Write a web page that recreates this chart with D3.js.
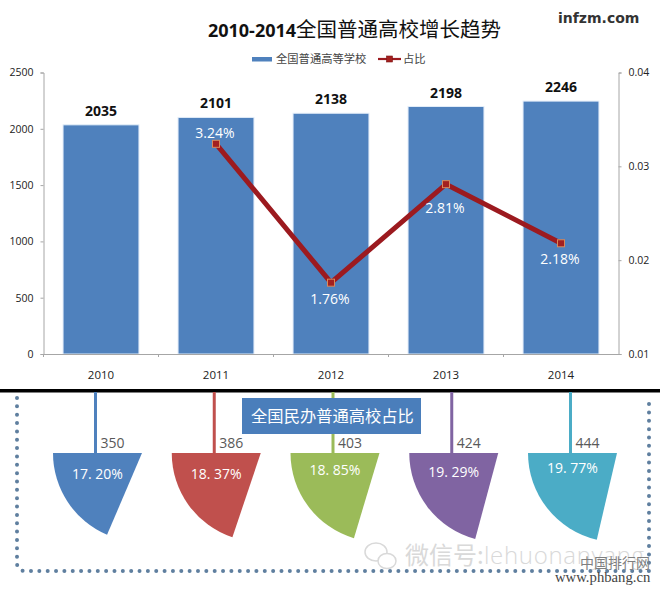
<!DOCTYPE html>
<html>
<head>
<meta charset="utf-8">
<script src="https://cdnjs.cloudflare.com/ajax/libs/d3/7.8.5/d3.min.js"></script>
<style>
html, body { margin: 0; padding: 0; background: #fff; }
svg { display: block; }
text { font-family: "Open Sans", "Noto Sans CJK SC", sans-serif; }
</style>
</head>
<body>
<div id="chart"></div>
<script>
var years = ["2010", "2011", "2012", "2013", "2014"];
var schools = [2035, 2101, 2138, 2198, 2246];
var shareYears = ["2011", "2012", "2013", "2014"];
var shares = [0.0324, 0.0176, 0.0281, 0.0218];
var shareLabels = ["3.24%", "1.76%", "2.81%", "2.18%"];
var leftTicks = [0, 500, 1000, 1500, 2000, 2500];
var rightTicks = [0.01, 0.02, 0.03, 0.04];

var privateCounts = [350, 386, 403, 424, 444];
var privateShares = [17.20, 18.37, 18.85, 19.29, 19.77];
var privateLabels = ["17. 20%", "18. 37%", "18. 85%", "19. 29%", "19. 77%"];
var fanColors = ["#4f81bd", "#c0504d", "#9bbb59", "#8064a2", "#4bacc6"];

var width = 660, height = 591;
var cjk = '"Noto Sans CJK SC", sans-serif';

var svg = d3.select("#chart").append("svg")
	.attr("width", width)
	.attr("height", height);

// escalas del grafico de arriba
var x = d3.scaleBand().domain(years).range([43.5, 618.5]).paddingInner(0.34).paddingOuter(0.17);
var y = d3.scaleLinear().domain([0, 2500]).range([354, 72.5]);
var y2 = d3.scaleLinear().domain([0.01, 0.04]).range([354, 72.5]);

svg.append("text")
	.attr("x", 354.5).attr("y", 37)
	.attr("text-anchor", "middle")
	.attr("fill", "#111")
	.style("font-size", "20.5px")
	.call(function (t) {
		t.append("tspan").style("font-weight", 700).style("font-family", "'Open Sans'").style("font-size", "18px").text("2010-2014");
		t.append("tspan").style("font-family", cjk).style("font-weight", 400).text("全国普通高校增长趋势");
	});

svg.append("text")
	.attr("x", 558).attr("y", 23)
	.attr("fill", "#333")
	.style("font-family", "'DejaVu Sans'")
	.style("font-weight", 700)
	.style("font-size", "14px")
	.text("infzm.com");

// leyenda
svg.append("rect").attr("x", 252).attr("y", 57).attr("width", 20).attr("height", 4.5).attr("fill", "#4f81bd");
svg.append("text").attr("x", 276).attr("y", 63)
	.attr("fill", "#444").style("font-family", cjk).style("font-size", "11.3px").text("全国普通高等学校");
svg.append("line").attr("x1", 378).attr("x2", 401).attr("y1", 59).attr("y2", 59)
	.attr("stroke", "#9c1a1f").attr("stroke-width", 2.2);
svg.append("rect").attr("x", 386.5).attr("y", 56).attr("width", 6).attr("height", 6)
	.attr("fill", "#a3201f").attr("stroke", "#7c1515").attr("stroke-width", 0.6);
svg.append("text").attr("x", 403).attr("y", 63)
	.attr("fill", "#444").style("font-family", cjk).style("font-size", "11.3px").text("占比");

// barras
svg.append("g").selectAll("rect")
	.data(schools)
	.enter()
	.append("rect")
	.attr("x", function (d, i) { return x(years[i]); })
	.attr("y", function (d) { return y(d); })
	.attr("width", x.bandwidth())
	.attr("height", function (d) { return y(0) - y(d); })
	.attr("fill", "#4f81bd")
	.attr("stroke", "#e1ecf8")
	.attr("stroke-width", 1);

svg.append("g").selectAll("text")
	.data(schools)
	.enter()
	.append("text")
	.attr("x", function (d, i) { return x(years[i]) + x.bandwidth() / 2; })
	.attr("y", function (d) { return y(d) - 9; })
	.attr("text-anchor", "middle")
	.attr("fill", "#111")
	.style("font-size", "14px")
	.style("font-weight", 700)
	.text(function (d) { return d; });

// ejes
var axisLeft = d3.axisLeft(y).tickValues(leftTicks).tickSize(3).tickPadding(7).tickFormat(d3.format("d"));
var axisRight = d3.axisRight(y2).tickValues(rightTicks).tickSize(3).tickPadding(7).tickFormat(d3.format(".2f"));
var axisBottom = d3.axisBottom(x).tickSize(0).tickPadding(17);

function estiloEje(g) {
	g.selectAll(".domain").attr("stroke", "#a6a6a6").attr("stroke-width", 1);
	g.selectAll(".tick line").attr("stroke", "#a6a6a6");
	g.selectAll("text").attr("fill", "#222").style("font-size", "10.5px").style("font-family", "'Open Sans'");
}

svg.append("g").attr("transform", "translate(43.5,0)").call(axisLeft).call(estiloEje);
svg.append("g").attr("transform", "translate(618.5,0)").call(axisRight).call(estiloEje);
svg.append("g").attr("transform", "translate(0,354)").call(axisBottom).call(estiloEje)
	.selectAll("text").style("font-size", "11.5px");

// marquitas entre categorias del eje de abajo
svg.append("g").selectAll("line")
	.data(years)
	.enter()
	.append("line")
	.attr("x1", function (d) { return x(d) - x.step() * 0.17; })
	.attr("x2", function (d) { return x(d) - x.step() * 0.17; })
	.attr("y1", 354)
	.attr("y2", 357)
	.attr("stroke", "#a6a6a6");

// linea de porcentaje
var linea = d3.line()
	.x(function (d, i) { return x(shareYears[i]) + x.bandwidth() / 2; })
	.y(function (d) { return y2(d); });

svg.append("path")
	.datum(shares)
	.attr("d", linea)
	.attr("fill", "none")
	.attr("stroke", "#9c1a1f")
	.attr("stroke-width", 5)
	.attr("stroke-linejoin", "miter");

svg.append("g").selectAll("rect")
	.data(shares)
	.enter()
	.append("rect")
	.attr("x", function (d, i) { return x(shareYears[i]) + x.bandwidth() / 2 - 3.5; })
	.attr("y", function (d) { return y2(d) - 3.5; })
	.attr("width", 7)
	.attr("height", 7)
	.attr("fill", "#a3201f")
	.attr("stroke", "#d98a5a")
	.attr("stroke-width", 1);

// etiquetas: 3.24 va arriba del punto, las demas abajo
var labelOffset = [-6, 21, 29, 21];
svg.append("g").selectAll("text")
	.data(shares)
	.enter()
	.append("text")
	.attr("x", function (d, i) { return x(shareYears[i]) + x.bandwidth() / 2 - 1; })
	.attr("y", function (d, i) { return y2(d) + labelOffset[i]; })
	.attr("text-anchor", "middle")
	.attr("fill", "#fff")
	.style("font-size", "14px")
	.text(function (d, i) { return shareLabels[i]; });

// separador negro
svg.append("rect").attr("x", 0).attr("y", 389).attr("width", width).attr("height", 3.5).attr("fill", "#000");

// marcas de agua (debajo del borde punteado)
var icono = svg.append("g").attr("fill", "none").attr("stroke", "#d9d9d9").attr("stroke-width", 1.5);
icono.append("ellipse").attr("cx", 376).attr("cy", 552).attr("rx", 11).attr("ry", 9);
icono.append("ellipse").attr("cx", 387).attr("cy", 561).attr("rx", 9).attr("ry", 7.5).attr("fill", "#fff");
svg.append("text").attr("x", 405).attr("y", 564)
	.attr("fill", "#d9d9d9")
	.style("font-family", cjk)
	.style("font-size", "24px")
	.text("微信号:");
svg.append("text").attr("x", 484).attr("y", 564)
	.attr("fill", "#d9d9d9")
	.style("font-family", "'Open Sans'")
	.style("font-weight", 300)
	.style("font-size", "24px")
	.attr("textLength", 160)
	.text("lehuonanyang");

// borde punteado
var borde = d3.path();
borde.moveTo(17, 398);
borde.lineTo(17, 563);
borde.quadraticCurveTo(17, 571, 26, 571);
borde.lineTo(649, 571);
borde.lineTo(649, 396);
svg.append("path")
	.attr("d", borde.toString())
	.attr("fill", "none")
	.attr("stroke", "#5f7f9f")
	.attr("stroke-width", 4)
	.attr("stroke-linecap", "round")
	.attr("stroke-dasharray", "0 8.35");

svg.append("text").attr("x", 580).attr("y", 568)
	.attr("fill", "#7f7f7f")
	.style("font-family", cjk)
	.style("font-size", "14px")
	.text("中国排行网");
svg.append("text").attr("x", 555).attr("y", 582)
	.attr("fill", "#444")
	.style("font-family", "'Liberation Serif'")
	.style("font-size", "14.7px")
	.text("www.phbang.cn");

// abanicos de abajo: cada uno cuelga de su palito
var stemX = d3.scalePoint().domain(years).range([95.5, 570.5]);
var fanRadius = 89;
var fanTop = 453;
var fanStretch = 1.08;
var fanLabelShift = [0, 0, -4, -2, -6];
var arco = d3.arc().innerRadius(0).outerRadius(fanRadius);

var fans = svg.append("g").selectAll("g")
	.data(privateShares)
	.enter()
	.append("g");

fans.append("rect")
	.attr("x", function (d, i) { return stemX(years[i]) - 1.5; })
	.attr("y", 392)
	.attr("width", 3)
	.attr("height", fanTop - 392)
	.attr("fill", function (d, i) { return fanColors[i]; });

fans.append("path")
	.attr("transform", function (d, i) { return "translate(" + (stemX(years[i]) + 46.5) + "," + fanTop + ")"; })
	.attr("d", function (d) {
		var sweep = d / 100 * 2 * Math.PI * fanStretch;
		return arco({ startAngle: 1.5 * Math.PI - sweep, endAngle: 1.5 * Math.PI });
	})
	.attr("fill", function (d, i) { return fanColors[i]; });

fans.append("text")
	.attr("x", function (d, i) { return stemX(years[i]) + 5; })
	.attr("y", 448)
	.attr("fill", "#595959")
	.style("font-size", "14px")
	.text(function (d, i) { return privateCounts[i]; });

fans.append("text")
	.attr("x", function (d, i) { return stemX(years[i]) + 2; })
	.attr("y", function (d, i) { return 479 + fanLabelShift[i]; })
	.attr("text-anchor", "middle")
	.attr("fill", "#fff")
	.style("font-size", "14px")
	.text(function (d, i) { return privateLabels[i]; });

// caja del titulo
svg.append("rect").attr("x", 242).attr("y", 398).attr("width", 179).attr("height", 36).attr("fill", "#4a7ebb");
svg.append("text").attr("x", 332.5).attr("y", 422)
	.attr("text-anchor", "middle")
	.attr("fill", "#fff")
	.style("font-family", cjk)
	.style("font-size", "16.3px")
	.text("全国民办普通高校占比");
</script>
</body>
</html>
